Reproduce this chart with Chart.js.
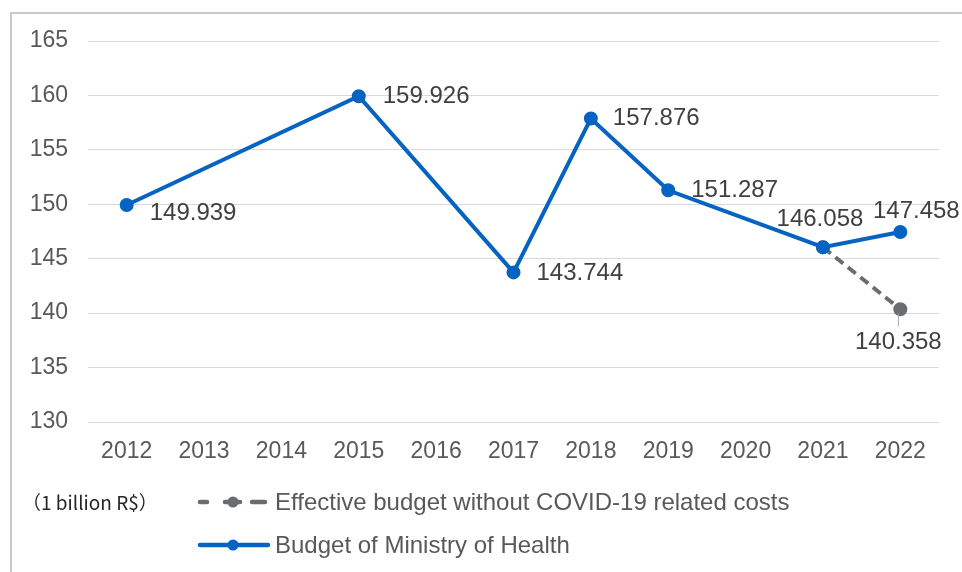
<!DOCTYPE html>
<html>
<head>
<meta charset="utf-8">
<script src="https://cdn.jsdelivr.net/npm/chart.js@4/dist/chart.umd.min.js"></script>
<style>
  html, body { margin: 0; padding: 0; background: #fff; overflow: hidden; }
  #wrap { position: relative; width: 962px; height: 572px; }
  #frame { position: absolute; left: 10px; top: 12px; width: 1000px; height: 600px;
           border-top: 2px solid #c9c9c9; border-left: 2px solid #c9c9c9; box-sizing: border-box; }
  canvas { position: absolute; left: 0; top: 0; }
</style>
</head>
<body>
<div id="wrap">
  <div id="frame"></div>
  <canvas id="budgetChart" width="962" height="572"></canvas>
</div>
<script>
// budget figures, 1 billion R$
const years = ['2012', '2013', '2014', '2015', '2016', '2017', '2018', '2019', '2020', '2021', '2022'];
const ministryBudget = [149.939, null, null, 159.926, null, 143.744, 157.876, 151.287, null, 146.058, 147.458];
const effectiveBudget = [null, null, null, null, null, null, null, null, null, 146.058, 140.358];
const yTicks = [130, 135, 140, 145, 150, 155, 160, 165];
const unitNote = '（1 billion R$）';

const BLUE = '#0563c1';
const GREY = '#6a6d70';
const TEXT = '#595959';
const SANS = '"Liberation Sans", Arial, sans-serif';

// where each value label sits relative to its point: [dx, dy, align]
const labelPos = {
  0: { 0: [23, 8, 'left'], 3: [24, 0, 'left'], 5: [23, 1, 'left'], 6: [22, 0, 'left'],
       7: [23, 0, 'left'], 9: [-3, -28, 'center'], 10: [16, -21, 'center'] },
  1: { 10: [-2, 33, 'center'] }
};

// value labels next to the points
const valueLabels = {
  id: 'valueLabels',
  afterDatasetsDraw(chart) {
    const ctx = chart.ctx;
    ctx.save();
    ctx.font = '24px ' + SANS;
    ctx.fillStyle = '#404040';
    ctx.textBaseline = 'middle';
    chart.data.datasets.forEach((ds, di) => {
      const meta = chart.getDatasetMeta(di);
      const pos = labelPos[di] || {};
      ds.data.forEach((v, i) => {
        if (v === null || !pos[i]) return;
        const pt = meta.data[i];
        const [dx, dy, align] = pos[i];
        ctx.textAlign = align;
        ctx.fillText(v.toFixed(3), pt.x + dx, pt.y + dy);
        if (di === 1) {
          // leader line down to the label
          ctx.strokeStyle = '#a6a6a6';
          ctx.lineWidth = 1;
          ctx.beginPath();
          ctx.moveTo(pt.x - 2, pt.y + 4);
          ctx.lineTo(pt.x - 2, pt.y + 17);
          ctx.stroke();
        }
      });
    });
    ctx.restore();
  }
};

// legend block under the axis, two rows plus the unit note
const bottomLegend = {
  id: 'bottomLegend',
  afterDraw(chart) {
    const ctx = chart.ctx;
    ctx.save();
    ctx.font = '19px "Noto Sans CJK SC", sans-serif';
    ctx.fillStyle = '#262626';
    ctx.textBaseline = 'middle';
    ctx.textAlign = 'left';
    ctx.fillText(unitNote, 22, 503);

    const rows = [1, 0];
    rows.forEach((di, r) => {
      const ds = chart.data.datasets[di];
      const y = 502 + r * 43;
      ctx.strokeStyle = ds.borderColor;
      ctx.lineWidth = 4.5;
      ctx.lineCap = 'round';
      ctx.beginPath();
      if (di === 1) {
        ctx.moveTo(200, y); ctx.lineTo(207, y);
        ctx.moveTo(225, y); ctx.lineTo(240, y);
        ctx.moveTo(252, y); ctx.lineTo(265, y);
      } else {
        ctx.moveTo(200, y); ctx.lineTo(268, y);
      }
      ctx.stroke();
      ctx.fillStyle = ds.pointBackgroundColor;
      ctx.beginPath();
      ctx.arc(233, y, 5.5, 0, Math.PI * 2);
      ctx.fill();
      ctx.fillStyle = TEXT;
      ctx.font = '24px ' + SANS;
      ctx.fillText(ds.label, 275, y + 1);
    });
    ctx.restore();
  }
};

const ctx = document.getElementById('budgetChart').getContext('2d');
const chart = new Chart(ctx, {
  type: 'line',
  data: {
    labels: years,
    datasets: [
      {
        label: 'Budget of Ministry of Health',
        data: ministryBudget,
        borderColor: BLUE,
        backgroundColor: BLUE,
        pointBackgroundColor: BLUE,
        pointBorderColor: BLUE,
        borderWidth: 4,
        pointRadius: 5,
        spanGaps: true,
        tension: 0,
        order: 1
      },
      {
        label: 'Effective budget without COVID-19 related costs',
        data: effectiveBudget,
        borderColor: GREY,
        backgroundColor: GREY,
        pointBackgroundColor: GREY,
        pointBorderColor: GREY,
        borderWidth: 4,
        borderDash: [10, 6],
        pointRadius: 5,
        spanGaps: true,
        tension: 0,
        order: 2
      }
    ]
  },
  options: {
    responsive: false,
    animation: false,
    layout: { padding: { left: 0, top: 41, right: 23, bottom: 0 } },
    plugins: {
      legend: { display: false },
      tooltip: { enabled: false }
    },
    scales: {
      x: {
        offset: true,
        grid: { display: false, drawTicks: false },
        border: { display: false },
        ticks: {
          color: TEXT,
          font: { family: SANS, size: 23 },
          padding: 16,
          maxRotation: 0,
          autoSkip: false
        },
        afterFit(scale) { scale.height = 150; }
      },
      y: {
        min: 130,
        max: 165,
        afterBuildTicks(scale) { scale.ticks = yTicks.map(v => ({ value: v })); },
        grid: { color: '#d9d9d9', lineWidth: 1, drawTicks: false },
        border: { display: false },
        ticks: {
          color: TEXT,
          font: { family: SANS, size: 23 },
          padding: 20
        },
        afterFit(scale) { scale.width = 88; }
      }
    }
  },
  plugins: [valueLabels, bottomLegend]
});
</script>
</body>
</html>
